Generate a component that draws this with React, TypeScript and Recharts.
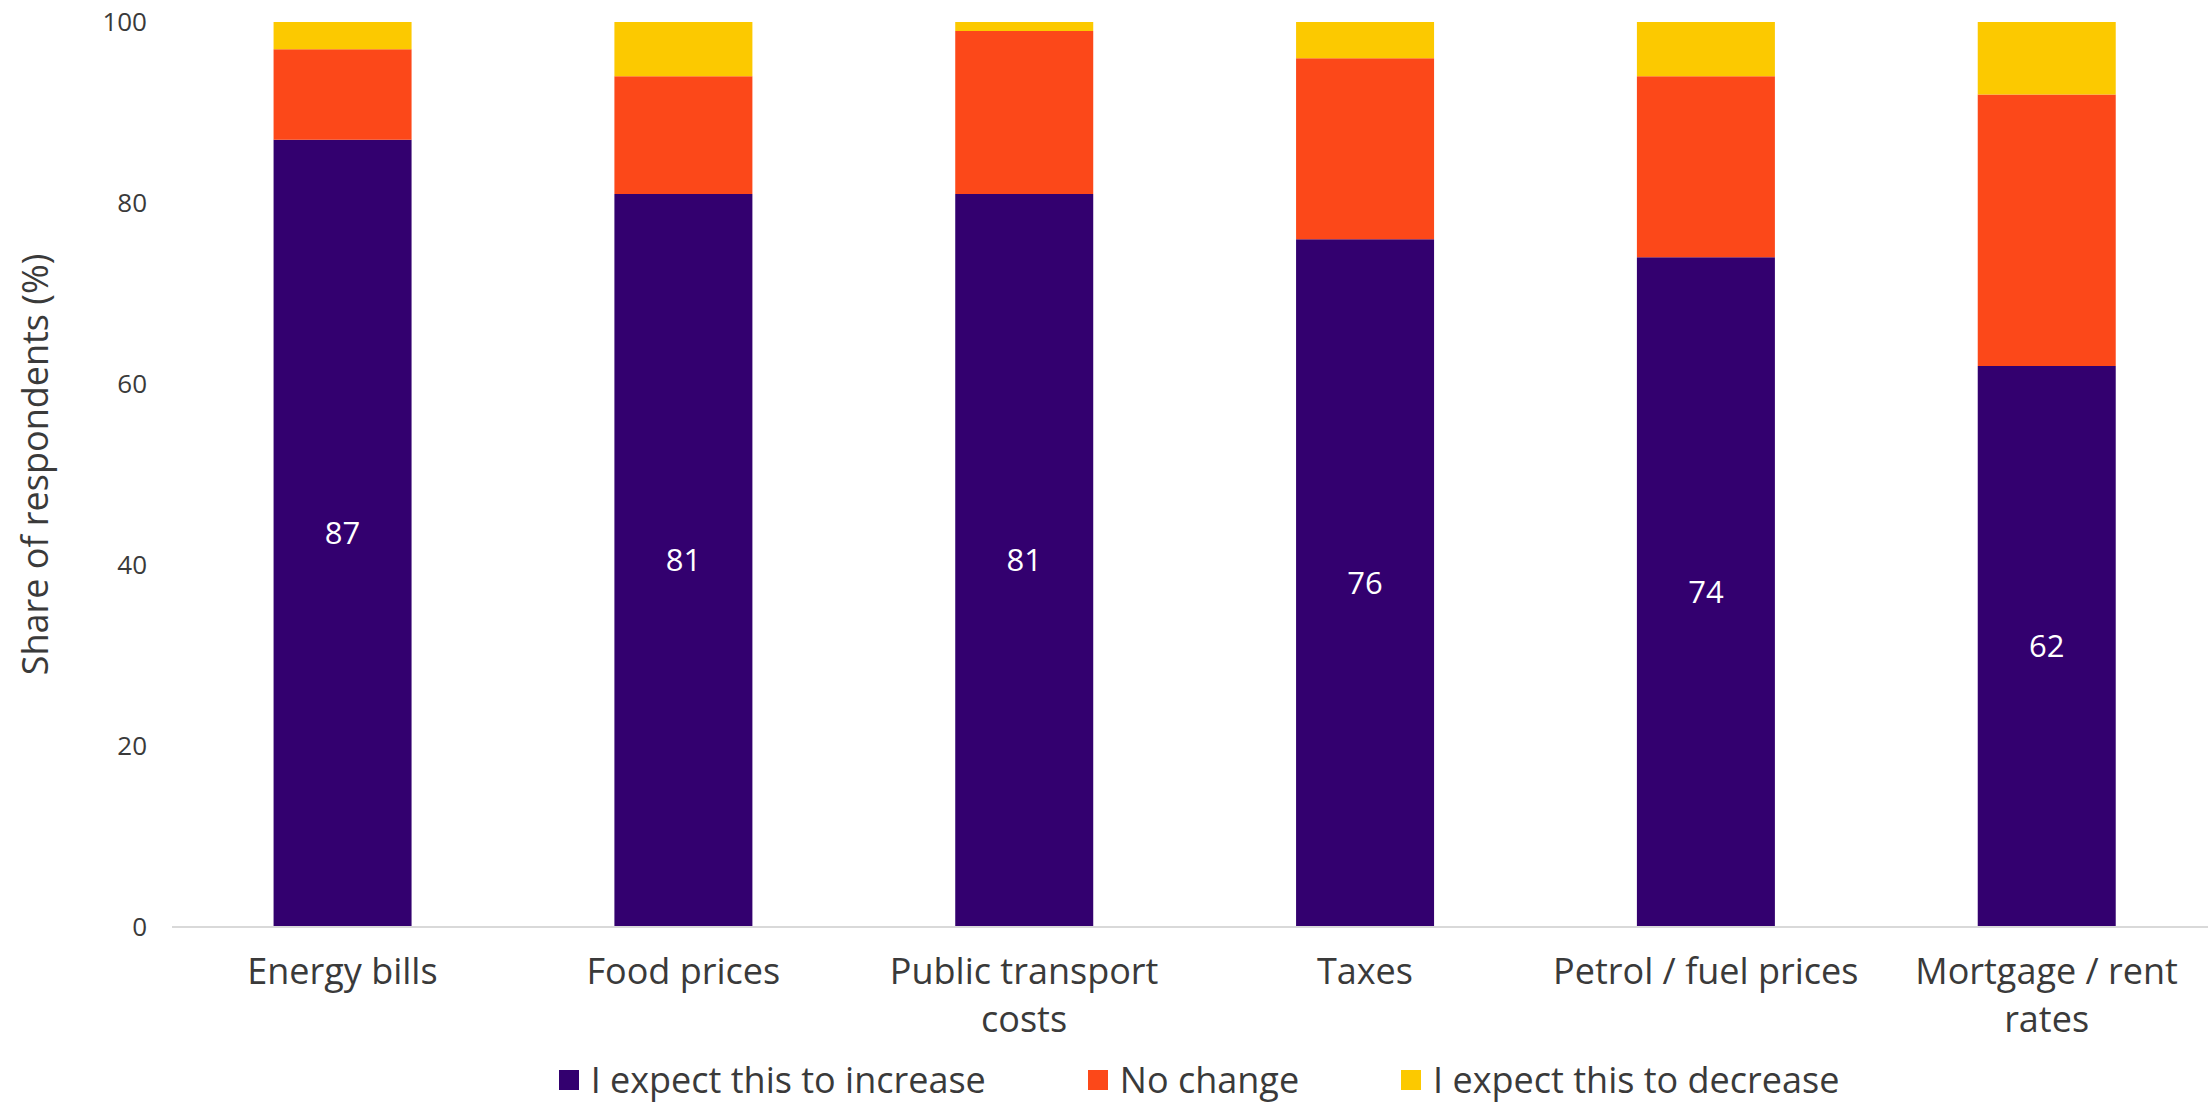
import React from "react";
import { BarChart, Bar, XAxis, YAxis, Legend, LabelList } from "recharts";

const categories = [
  "Energy bills",
  "Food prices",
  "Public transport costs",
  "Taxes",
  "Petrol / fuel prices",
  "Mortgage / rent rates",
];
const tickLines: string[][] = [
  ["Energy bills"],
  ["Food prices"],
  ["Public transport", "costs"],
  ["Taxes"],
  ["Petrol / fuel prices"],
  ["Mortgage / rent", "rates"],
];
const increase = [87, 81, 81, 76, 74, 62];
const noChange = [10, 13, 18, 20, 20, 30];
const decrease = [3, 6, 1, 4, 6, 8];
const seriesNames = ["I expect this to increase", "No change", "I expect this to decrease"];
const yTicks = [0, 20, 40, 60, 80, 100];
const yLabel = "Share of respondents (%)";

const COLORS = ["#33006F", "#FC4819", "#FCC900"];
const FONT = "'Open Sans', sans-serif";
const TEXT = "#3a3a3a";

const data = categories.map((c, i) => ({
  name: c,
  inc: increase[i],
  nc: noChange[i],
  dec: decrease[i],
}));

const XTick = (props: any) => {
  const { x, y, index } = props;
  const lines = tickLines[index] || [props.payload.value];
  return (
    <g transform={`translate(${x},${y})`}>
      <text textAnchor="middle" fill={TEXT} fontFamily={FONT} fontSize={36}>
        {lines.map((l, i) => (
          <tspan key={i} x={0} y={57 + i * 48}>
            {l}
          </tspan>
        ))}
      </text>
    </g>
  );
};

const YLabel = (props: any) => {
  const vb = props.viewBox || { x: 0, y: 0, height: 0 };
  const cx = 34;
  const cy = vb.y + vb.height / 2 - 10;
  return (
    <text
      x={cx}
      y={cy}
      transform={`rotate(-90 ${cx} ${cy})`}
      textAnchor="middle"
      dominantBaseline="central"
      fill={TEXT}
      fontFamily={FONT}
      fontSize={36}
    >
      {yLabel}
    </text>
  );
};

const LegendContent = (props: any) => {
  const payload = props.payload || [];
  const ordered = seriesNames
    .map((n) => payload.find((p: any) => p.value === n))
    .filter(Boolean);
  return (
    <div
      style={{
        display: "flex",
        justifyContent: "center",
        alignItems: "center",
        height: 50,
        boxSizing: "border-box",
        gap: 102,
        paddingLeft: 190,
        fontFamily: FONT,
        fontSize: 36,
        lineHeight: 1,
        color: TEXT,
        whiteSpace: "nowrap",
      }}
    >
      {ordered.map((p: any, i: number) => (
        <div key={i} style={{ display: "flex", alignItems: "center", lineHeight: 1 }}>
          <span
            style={{
              display: "inline-block",
              width: 20,
              height: 20,
              background: p.color,
              marginRight: 12,
            }}
          />
          <span style={{ lineHeight: 1 }}>{p.value}</span>
        </div>
      ))}
    </div>
  );
};

export default function App() {
  return (
    <div style={{ position: "absolute", left: 0, top: 0, width: 2208, height: 1105, background: "#fff", overflow: "hidden" }}>
      <BarChart
        width={2208}
        height={1105}
        data={data}
        margin={{ top: 22, right: -9, left: 0, bottom: 0 }}
        barCategoryGap="29.8%"
      >
        <XAxis
          dataKey="name"
          axisLine={{ stroke: "#d9d9d9", strokeWidth: 2 }}
          tickLine={false}
          tickSize={0}
          tickMargin={0}
          height={128}
          interval={0}
          tick={<XTick />}
        />
        <YAxis
          width={172}
          domain={[0, 100]}
          ticks={yTicks}
          axisLine={false}
          tickLine={false}
          tickSize={0}
          tickMargin={25}
          tick={{ fill: TEXT, fontFamily: FONT, fontSize: 26 }}
          label={<YLabel />}
        />
        <Legend
          verticalAlign="bottom"
          content={<LegendContent />}
          wrapperStyle={{ left: 0, width: 2208, bottom: 0 }}
        />
        <Bar dataKey="inc" name={seriesNames[0]} stackId="a" fill={COLORS[0]} isAnimationActive={false}>
          <LabelList dataKey="inc" position="center" fill="#ffffff" fontFamily={FONT} fontSize={31} />
        </Bar>
        <Bar dataKey="nc" name={seriesNames[1]} stackId="a" fill={COLORS[1]} isAnimationActive={false} />
        <Bar dataKey="dec" name={seriesNames[2]} stackId="a" fill={COLORS[2]} isAnimationActive={false} />
      </BarChart>
    </div>
  );
}
